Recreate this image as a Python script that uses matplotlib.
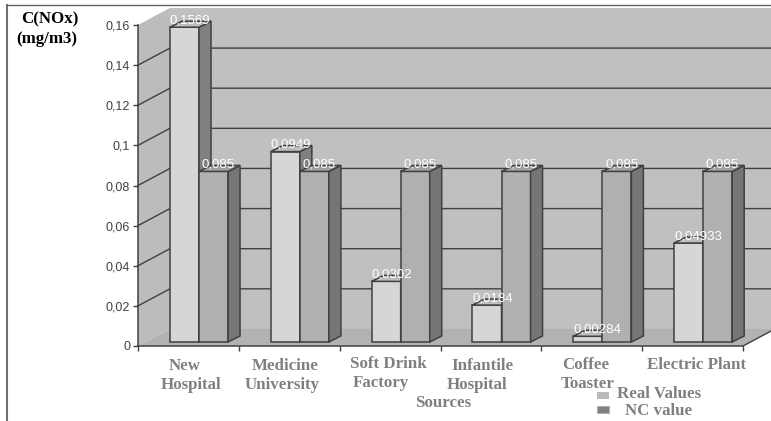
#!/usr/bin/env python3
"""NOx concentration per source against the NC reference value, drawn as pseudo-3D bars."""

import numpy as np
import matplotlib
matplotlib.use("Agg")
import matplotlib.pyplot as plt
from matplotlib.lines import Line2D
from matplotlib.patches import Rectangle

W, H = 771, 421

real_values = [0.1569, 0.0949, 0.0302, 0.0184, 0.00284, 0.04933]
nc_values = [0.085, 0.085, 0.085, 0.085, 0.085, 0.085]
real_labels = ["0,1569", "0,0949", "0,0302", "0,0184", "0,00284", "0,04933"]
nc_labels = ["0,085"] * 6
y_ticks = [0, 0.02, 0.04, 0.06, 0.08, 0.1, 0.12, 0.14, 0.16]
y_tick_labels = ["0", "0,02", "0,04", "0,06", "0,08", "0,1", "0,12", "0,14", "0,16"]

# category text lines: (text, left px, centre-line px)
category_lines = [
    ("New", 169, 366), ("Hospital", 161, 385),
    ("Medicine", 252, 366), ("University", 245, 385),
    ("Soft Drink", 350, 364), ("Factory", 353, 383),
    ("Infantile", 451, 366), ("Hospital", 447, 385),
    ("Coffee", 562, 365), ("Toaster", 561, 384),
    ("Electric Plant", 647, 365),
]

SERIF = "Liberation Serif"
SANS = "Liberation Sans"
GRID = "#404040"
LABEL_SIZE = 12.2

# depth of the box and of each bar, in data units
BOX_DX, BOX_DY = 0.317, 0.0085
BAR_DX, BAR_DY = 0.119, 0.003
BAR_W, BAR_BASE = 0.288, 0.002


def px_text(fig, x, y, s, **kw):
    fig.text(x / W, 1 - y / H, s, va="center", **kw)


def draw_bar(ax, x, val, front, side, top, z):
    y1 = BAR_BASE + val
    ax.bar(x, val, BAR_W, bottom=BAR_BASE, align="edge", color=front,
           edgecolor=GRID, linewidth=1.1, zorder=z, clip_on=False)
    x1 = x + BAR_W
    ax.fill([x1, x1 + BAR_DX, x1 + BAR_DX, x1],
            [BAR_BASE, BAR_BASE + BAR_DY, y1 + BAR_DY, y1],
            facecolor=side, edgecolor=GRID, linewidth=1.1, zorder=z, clip_on=False)
    ax.fill([x, x + BAR_DX, x1 + BAR_DX, x1],
            [y1, y1 + BAR_DY, y1 + BAR_DY, y1],
            facecolor=top, edgecolor=GRID, linewidth=1.1, zorder=z, clip_on=False)


fig = plt.figure(figsize=(W / 100, H / 100), dpi=100, facecolor="white")
ax = fig.add_axes([138 / W, (H - 346) / H, 605 / W, 321 / H])
ax.set_xlim(0, 6)
ax.set_ylim(0, 0.16)
ax.set_facecolor("none")

# walls and floor of the box
right = 6.4
ax.fill([0, BOX_DX, BOX_DX, 0], [0, BOX_DY, 0.16 + BOX_DY, 0.16],
        color="#bcbcbc", lw=0, zorder=1, clip_on=False)
ax.fill([BOX_DX, right, right, BOX_DX], [BOX_DY, BOX_DY, 0.16 + BOX_DY, 0.16 + BOX_DY],
        color="#c0c0c0", lw=0, zorder=1, clip_on=False)
ax.fill([0, 6, 6 + BOX_DX, BOX_DX], [0, 0, BOX_DY, BOX_DY],
        color="#b2b2b2", lw=0, zorder=1, clip_on=False)
ax.plot([6, 6 + BOX_DX], [0, BOX_DY], color=GRID, lw=1, zorder=2, clip_on=False)

# gridlines run along the back wall and down the left wall
for t in y_ticks[1:-1]:
    ax.plot([0, BOX_DX, right], [t, t + BOX_DY, t + BOX_DY], color=GRID, lw=1,
            zorder=2, clip_on=False)

x = np.arange(len(real_values)) + BOX_DX
for i in range(len(x)):
    draw_bar(ax, x[i], real_values[i], "#d6d6d6", "#808080", "#bdbdbd", 3)
    draw_bar(ax, x[i] + BAR_W, nc_values[i], "#b0b0b0", "#767676", "#a0a0a0", 4)

for i in range(len(x)):
    ax.annotate(real_labels[i], (x[i], BAR_BASE + real_values[i]), xytext=(0, 5),
                textcoords="offset points", ha="left", va="center", color="white",
                family=SANS, fontsize=9.5, zorder=6, annotation_clip=False)
    ax.annotate(nc_labels[i], (x[i] + BAR_W, BAR_BASE + nc_values[i]), xytext=(2, 5),
                textcoords="offset points", ha="left", va="center", color="white",
                family=SANS, fontsize=9.5, zorder=6, annotation_clip=False)

for s in ("top", "right"):
    ax.spines[s].set_visible(False)
for s in ("left", "bottom"):
    ax.spines[s].set_color(GRID)
    ax.spines[s].set_linewidth(1.1)
    ax.spines[s].set_zorder(5)

ax.set_xticks(np.arange(7))
ax.set_xticklabels([])
ax.set_yticks(y_ticks)
ax.set_yticklabels(y_tick_labels, family=SANS, fontsize=9, color="#404040")
ax.tick_params(axis="both", length=3.6, width=1, color=GRID, pad=2)

for text, left, mid in category_lines:
    px_text(fig, left, mid, text, family=SERIF, weight="bold", fontsize=LABEL_SIZE, color="#808080", ha="left")
px_text(fig, 415, 403, "Sources", family=SERIF, weight="bold", fontsize=LABEL_SIZE, color="#808080", ha="left")

px_text(fig, 50, 19, "C(NOx)", family=SERIF, weight="bold", fontsize=LABEL_SIZE, color="black", ha="center")
px_text(fig, 47, 39, "(mg/m3)", family=SERIF, weight="bold", fontsize=LABEL_SIZE, color="black", ha="center")

# legend swatches and names
fig.add_artist(Rectangle((597 / W, 1 - 399 / H), 12 / W, 7 / H, transform=fig.transFigure,
                         facecolor="#bababa", edgecolor="none"))
fig.add_artist(Rectangle((597 / W, 1 - 413 / H), 12 / W, 7 / H, transform=fig.transFigure,
                         facecolor="#808080", edgecolor="#b0b0b0", linewidth=0.8))
px_text(fig, 617, 394, "Real Values", family=SERIF, weight="bold", fontsize=LABEL_SIZE, color="#808080", ha="left")
px_text(fig, 625, 411, "NC value", family=SERIF, weight="bold", fontsize=LABEL_SIZE, color="#808080", ha="left")

# outer frame: left and top edges only
fig.add_artist(Line2D([7 / W, 7 / W], [0, 1 - 4.5 / H], color="#707070", lw=1.5))
fig.add_artist(Line2D([7 / W, 1], [1 - 4.5 / H, 1 - 4.5 / H], color="#606060", lw=1))

plt.savefig("out.png", dpi=100)
